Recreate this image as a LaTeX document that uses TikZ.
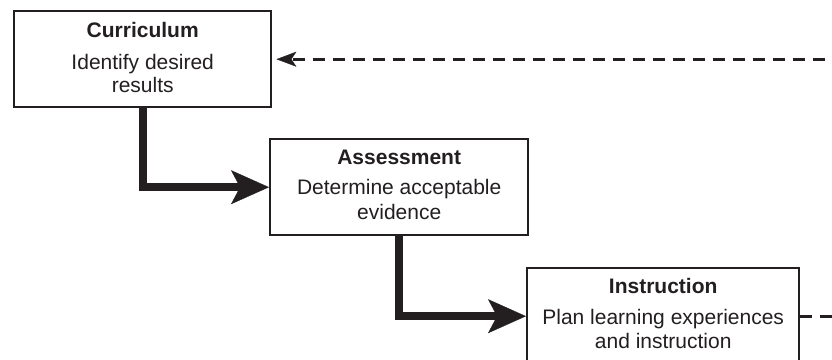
\documentclass[tikz,border=0pt]{standalone}
\usepackage{fontspec}
\setmainfont{Liberation Sans}
\usetikzlibrary{arrows.meta,calc}
\definecolor{ink}{HTML}{231F20}
\begin{document}
\begin{tikzpicture}[x=1pt,y=-1pt,
  stagebox/.style={draw=ink, line width=2.4pt, minimum width=#1, minimum height=96pt, inner sep=0pt, anchor=north west},
  ttl/.style={font=\fontsize{21}{23}\selectfont\bfseries, text=ink, anchor=base, inner sep=0pt},
  txt/.style={font=\fontsize{21}{23}\selectfont, text=ink, anchor=base, inner sep=0pt},
  flow/.style={line width=8pt, draw=ink, -{Stealth[length=38pt,width=34pt,inset=9pt,line width=0.4pt]}},
  feedback/.style={line width=2.6pt, draw=ink, dash pattern=on 12pt off 8pt}
]
\clip (0,0) rectangle (832,359);
\fill[white] (0,0) rectangle (832,359);

% boxes
\node[stagebox=257pt] (cur) at (13,10) {};
\node[stagebox=258pt] (ass) at (269,138) {};
\node[stagebox=272pt] (ins) at (526,267) {};

% texts
\node[ttl] (curT) at ($(cur.north)+(0,27)$) {Curriculum};
\node[txt] (curA) at ($(cur.north)+(0,59)$) {Identify desired};
\node[txt] (curB) at ($(cur.north)+(0,82)$) {results};

\node[ttl] (assT) at ($(ass.north)+(0,26.5)$) {Assessment};
\node[txt] (assA) at ($(ass.north)+(0,56)$) {Determine acceptable};
\node[txt] (assB) at ($(ass.north)+(0,81)$) {evidence};

\node[ttl] (insT) at ($(ins.north)+(0,26)$) {Instruction};
\node[txt] (insA) at ($(ins.north)+(0,57)$) {Plan learning experiences};
\node[txt] (insB) at ($(ins.north)+(0,81)$) {and instruction};

% flow arrows
\draw[flow] (cur.south) |- (ass.west);
\draw[flow] (ass.south) |- (ins.west);

% feedback
\coordinate (fbR) at (845,0);
\draw[feedback, -{Stealth[length=20pt,width=15pt,inset=5pt,line width=0.4pt]}, shorten >=4pt]
  (fbR |- cur.east) -- (cur.east);
\draw[feedback] (ins.east) -- (ins.east -| fbR);
\end{tikzpicture}
\end{document}
